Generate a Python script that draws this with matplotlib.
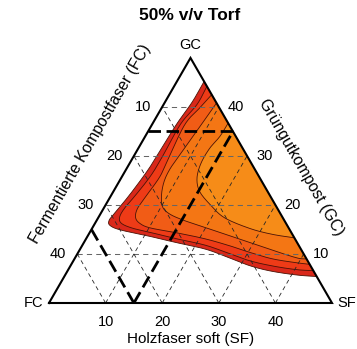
import numpy as np
import matplotlib.pyplot as plt

plt.rcParams['font.family'] = ['Liberation Sans', 'DejaVu Sans']

total = 50          # FC + SF + GC, rest is peat
ticks = [10, 20, 30, 40]

# contour boundaries as (SF, GC) in % v/v, outermost first; FC = 50 - SF - GC
sf0 = [4.8, 4.8, 4.3, 4.1, 3.9, 3.2, 2.4, 2.2, 2.9, 5.2, 11.0, 16.0, 22.1, 27.0, 31.7, 36.0, 41.0, 44.6]
gc0 = [45.2, 41.0, 36.5, 31.0, 27.0, 22.0, 18.2, 16.8, 15.8, 14.9, 13.6, 12.4, 11.0, 9.3, 7.6, 6.5, 5.7, 5.4]

sf1 = [5.8, 5.9, 5.0, 5.1, 5.0, 4.3, 3.7, 3.7, 4.6, 7.0, 10.7, 16.0, 21.7, 26.5, 31.2, 36.0, 40.4, 43.4]
gc1 = [44.2, 40.5, 36.5, 30.0, 26.0, 22.0, 19.5, 17.6, 16.3, 15.3, 14.4, 13.1, 11.8, 10.2, 8.6, 7.5, 6.8, 6.6]

sf2 = [7.5, 6.8, 5.8, 6.3, 6.7, 6.2, 6.0, 6.6, 8.0, 10.3, 15.5, 21.0, 26.0, 30.4, 35.0, 39.7, 42.1]
gc2 = [42.5, 40.0, 36.5, 30.0, 25.8, 21.5, 19.2, 17.4, 16.2, 15.3, 14.3, 13.1, 11.7, 10.3, 9.0, 8.2, 7.9]

sf3 = [9.2, 8.9, 8.2, 7.7, 8.3, 9.9, 11.8, 15.0, 19.9, 24.5, 29.4, 34.0, 39.2, 41.0]
gc3 = [40.8, 38.0, 32.0, 27.0, 23.5, 20.1, 18.4, 17.0, 15.4, 13.9, 12.3, 10.8, 9.2, 9.0]

sf4 = [13.3, 13.2, 12.6, 12.6, 13.4, 15.2, 18.4, 22.3, 27.9, 32.5, 36.7]
gc4 = [36.7, 34.0, 31.5, 28.5, 25.5, 22.8, 20.1, 17.4, 15.2, 14.0, 13.3]

contours = [(sf0, gc0), (sf1, gc1), (sf2, gc2), (sf3, gc3), (sf4, gc4)]
band_colors = ['#d9281a', '#ee3b17', '#f15c16', '#f47614', '#f68c18']

# limits drawn as heavy dashed lines
limit_gc = 35
limit_sf = 15
limit_fc = 35

S = 5.66  # pixels per % unit at dpi 100


def to_xy(sf, gc):
    sf = np.asarray(sf, float)
    gc = np.asarray(gc, float)
    return sf + gc / 2, gc * np.sqrt(3) / 2


def smooth(sf, gc, n=14):
    # catmull-rom spline through the traced points
    p = np.column_stack([sf, gc]).astype(float)
    p = np.vstack([2 * p[0] - p[1], p, 2 * p[-1] - p[-2]])
    t = np.linspace(0, 1, n, endpoint=False)[:, None]
    out = []
    for i in range(1, len(p) - 2):
        p0, p1, p2, p3 = p[i - 1], p[i], p[i + 1], p[i + 2]
        out.append(0.5 * (2 * p1 + (-p0 + p2) * t + (2 * p0 - 5 * p1 + 4 * p2 - p3) * t ** 2
                          + (-p0 + 3 * p1 - 3 * p2 + p3) * t ** 3))
    out.append(p[-2][None, :])
    q = np.vstack(out)
    return q[:, 0], q[:, 1]


fig = plt.figure(figsize=(3.57, 3.49), dpi=100)
ax = fig.add_axes([0, 0, 1, 1])
ax.set_xlim(-49 / S, (357 - 49) / S)
ax.set_ylim(-(349 - 303) / S, 303 / S)
ax.axis('off')

# filled bands, outer first
for (sf, gc), col in zip(contours, band_colors):
    s, g = smooth(sf, gc)
    x, y = to_xy(s, g)
    ax.fill(x, y, color=col, lw=0, zorder=1)
for sf, gc in contours:
    s, g = smooth(sf, gc)
    x, y = to_xy(s, g)
    ax.plot(x, y, color='#4a1206', lw=0.6, zorder=2)

# grid
for v in ticks:
    x, y = to_xy([0, total - v], [v, v])
    ax.plot(x, y, color='0.4', lw=0.75, ls=(0, (5, 4)), zorder=3)
    x, y = to_xy([v, v], [0, total - v])
    ax.plot(x, y, color='0.15', lw=0.6, ls=(0, (5, 4)), zorder=3)
    x, y = to_xy([total - v, 0], [0, total - v])
    ax.plot(x, y, color='0.15', lw=0.6, ls=(0, (5, 4)), zorder=3)

# limits
dash = (0, (4.5, 2))
x, y = to_xy([0, total - limit_gc], [limit_gc, limit_gc])
ax.plot(x, y, color='k', lw=2, ls=dash, zorder=4)
x, y = to_xy([limit_sf, limit_sf], [0, total - limit_sf])
ax.plot(x, y, color='k', lw=2, ls=dash, zorder=4)
x, y = to_xy([total - limit_fc, 0], [0, total - limit_fc])
ax.plot(x, y, color='k', lw=2, ls=dash, zorder=4)

# triangle
x, y = to_xy([0, total, 0, 0], [0, 0, total, 0])
ax.plot(x, y, color='k', lw=1.5, zorder=5, solid_joinstyle='miter')

fs = 10.5
for v in ticks:
    x, y = to_xy(v, 0)
    ax.text(x, y - 19 / S, str(v), ha='center', va='center', fontsize=fs)
    x, y = to_xy(total - v, v)
    ax.text(x + 17.5 / S, y, str(v), ha='center', va='center', fontsize=fs)
    x, y = to_xy(0, total - v)
    ax.text(x - 19.5 / S, y, str(v), ha='center', va='center', fontsize=fs)

x, y = to_xy(0, total)
ax.text(x, y + 13 / S, 'GC', ha='center', va='center', fontsize=fs)
x, y = to_xy(0, 0)
ax.text(x - 15 / S, y, 'FC', ha='center', va='center', fontsize=fs)
x, y = to_xy(total, 0)
ax.text(x + 15 / S, y, 'SF', ha='center', va='center', fontsize=fs)

x, y = to_xy(total / 2, 0)
ax.text(x, y - 36 / S, 'Holzfaser soft (SF)', ha='center', va='center', fontsize=11)

# side titles, pushed out along the edge normals
x, y = to_xy(0, 0.56 * total)
ax.text(x - 0.866 * 44 / S, y + 0.5 * 44 / S, 'Fermentierte Kompostfaser (FC)',
        rotation=60, rotation_mode='anchor', ha='center', va='center', fontsize=11.3)
x, y = to_xy(total * 0.53, total * 0.47)
ax.text(x + 0.866 * 41 / S, y + 0.5 * 41 / S, 'Grüngutkompost (GC)',
        rotation=-60, rotation_mode='anchor', ha='center', va='center', fontsize=11.3)

ax.text(total / 2 - 0.1, (303 - 16) / S, '50% v/v Torf', ha='center', va='center',
        fontsize=12.5, fontweight='bold')

fig.savefig('out.png', dpi=100)
